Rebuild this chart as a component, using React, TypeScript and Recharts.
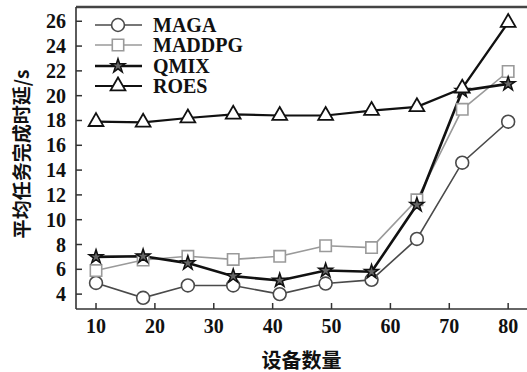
import React from 'react';
import { LineChart, Line, XAxis, YAxis, ReferenceLine, Symbols } from 'recharts';

const deviceCounts = [10, 18, 25.6, 33.3, 41.2, 49, 56.8, 64.5, 72.2, 80];
const magaValues = [4.9, 3.7, 4.7, 4.7, 4.0, 4.85, 5.15, 8.45, 14.6, 17.9];
const maddpgValues = [5.9, 6.75, 7.05, 6.8, 7.05, 7.9, 7.75, 11.6, 18.9, 21.95];
const qmixValues = [7.0, 7.05, 6.5, 5.45, 5.1, 5.9, 5.8, 11.2, 20.4, 20.95];
const roesValues = [17.9, 17.85, 18.2, 18.5, 18.4, 18.4, 18.8, 19.1, 20.6, 25.9];
const xTicks = [10, 20, 30, 40, 50, 60, 70, 80];
const yTicks = [4, 6, 8, 10, 12, 14, 16, 18, 20, 22, 24, 26];
const seriesNames = ['MAGA', 'MADDPG', 'QMIX', 'ROES'];

const data = deviceCounts.map((x, i) => ({
  x,
  MAGA: magaValues[i],
  MADDPG: maddpgValues[i],
  QMIX: qmixValues[i],
  ROES: roesValues[i],
}));

const styles: Record<string, any> = {
  MAGA: { stroke: '#4a4a4a', width: 1.6, type: 'circle', size: 130, mstroke: '#4a4a4a', fill: '#fff', mw: 1.6 },
  MADDPG: { stroke: '#9a9a9a', width: 1.6, type: 'square', size: 130, mstroke: '#9a9a9a', fill: '#fff', mw: 1.6 },
  QMIX: { stroke: '#111', width: 2.6, type: 'star', size: 60, mstroke: '#111', fill: '#666', mw: 1.5 },
  ROES: { stroke: '#111', width: 2.2, type: 'triangle', size: 95, mstroke: '#111', fill: '#fff', mw: 1.8 },
};

const FONT = '"Liberation Serif", "Times New Roman", serif';
const CJK = '"Noto Sans CJK SC", sans-serif';

const makeDot = (name: string) => (p: any) => {
  const s = styles[name];
  if (p.cx == null || p.cy == null) return <g key={`${name}-${p.index}`} />;
  return (
    <Symbols
      key={`${name}-${p.index}`}
      cx={p.cx}
      cy={p.cy}
      type={s.type}
      size={s.size}
      fill={s.fill}
      stroke={s.mstroke}
      strokeWidth={s.mw}
    />
  );
};

const YTick = (p: any) => (
  <g>
    <line x1={p.x} x2={p.x + 6} y1={p.y} y2={p.y} stroke="#333" strokeWidth={1.5} />
    <text x={p.x - 10} y={p.y} textAnchor="end" dominantBaseline="central" fontFamily={FONT} fontWeight={700} fontSize={20} fill="#111">
      {p.payload.value}
    </text>
  </g>
);

const XTick = (p: any) => (
  <g>
    <line x1={p.x} x2={p.x} y1={p.y} y2={p.y - 6} stroke="#333" strokeWidth={1.5} />
    <text x={p.x} y={p.y + 17} textAnchor="middle" dominantBaseline="central" fontFamily={FONT} fontWeight={700} fontSize={20} fill="#111">
      {p.payload.value}
    </text>
  </g>
);

const LegendBox = () => (
  <div style={{ position: 'absolute', left: 93, top: 15 }}>
    {seriesNames.map((n) => {
      const s = styles[n];
      return (
        <div key={n} style={{ display: 'flex', alignItems: 'center', height: 20.3 }}>
          <svg width={50} height={20} style={{ display: 'block' }}>
            <line x1={2} x2={49} y1={10} y2={10} stroke={s.stroke} strokeWidth={s.width} />
            <Symbols cx={25} cy={10} type={s.type} size={s.size} fill={s.fill} stroke={s.mstroke} strokeWidth={s.mw} />
          </svg>
          <span style={{ marginLeft: 10, fontFamily: FONT, fontWeight: 700, fontSize: 20, lineHeight: '20px', color: '#111' }}>{n}</span>
        </div>
      );
    })}
  </div>
);

export default function App() {
  return (
    <div style={{ position: 'absolute', left: 0, top: 0, width: 527, height: 372, background: '#fff' }}>
      <LineChart width={527} height={372} data={data} margin={{ top: 7, right: 0, left: 0, bottom: 0 }}>
        <XAxis
          dataKey="x"
          type="number"
          domain={[6.6, 83.2]}
          ticks={xTicks}
          allowDataOverflow
          height={63}
          tickSize={0}
          tickMargin={0}
          tickLine={false}
          axisLine={{ stroke: '#333', strokeWidth: 1.6 }}
          tick={<XTick />}
          interval={0}
          label={(props: any) => {
            const vb = props.viewBox || {};
            return (
              <text x={vb.x + vb.width / 2} y={359} textAnchor="middle" dominantBaseline="central" fontFamily={CJK} fontWeight={700} fontSize={20} fill="#111">
                设备数量
              </text>
            );
          }}
        />
        <YAxis
          type="number"
          domain={[2.8, 27.15]}
          ticks={yTicks}
          allowDataOverflow
          width={76}
          tickSize={0}
          tickMargin={0}
          tickLine={false}
          axisLine={{ stroke: '#333', strokeWidth: 1.6 }}
          tick={<YTick />}
          interval={0}
          label={(props: any) => {
            const vb = props.viewBox || {};
            const cy = vb.y + vb.height / 2 - 4;
            return (
              <text x={20} y={cy} transform={`rotate(-90, 20, ${cy})`} textAnchor="middle" dominantBaseline="central" fontFamily={CJK} fontWeight={700} fontSize={19} fill="#111">
                平均任务完成时延/s
              </text>
            );
          }}
        />
        <ReferenceLine y={27.15} stroke="#444" strokeWidth={2.5} ifOverflow="extendDomain" />
        {seriesNames.map((n) => (
          <Line
            key={n}
            dataKey={n}
            type="linear"
            stroke={styles[n].stroke}
            strokeWidth={styles[n].width}
            dot={makeDot(n)}
            activeDot={false}
            isAnimationActive={false}
          />
        ))}
      </LineChart>
      <LegendBox />
    </div>
  );
}
